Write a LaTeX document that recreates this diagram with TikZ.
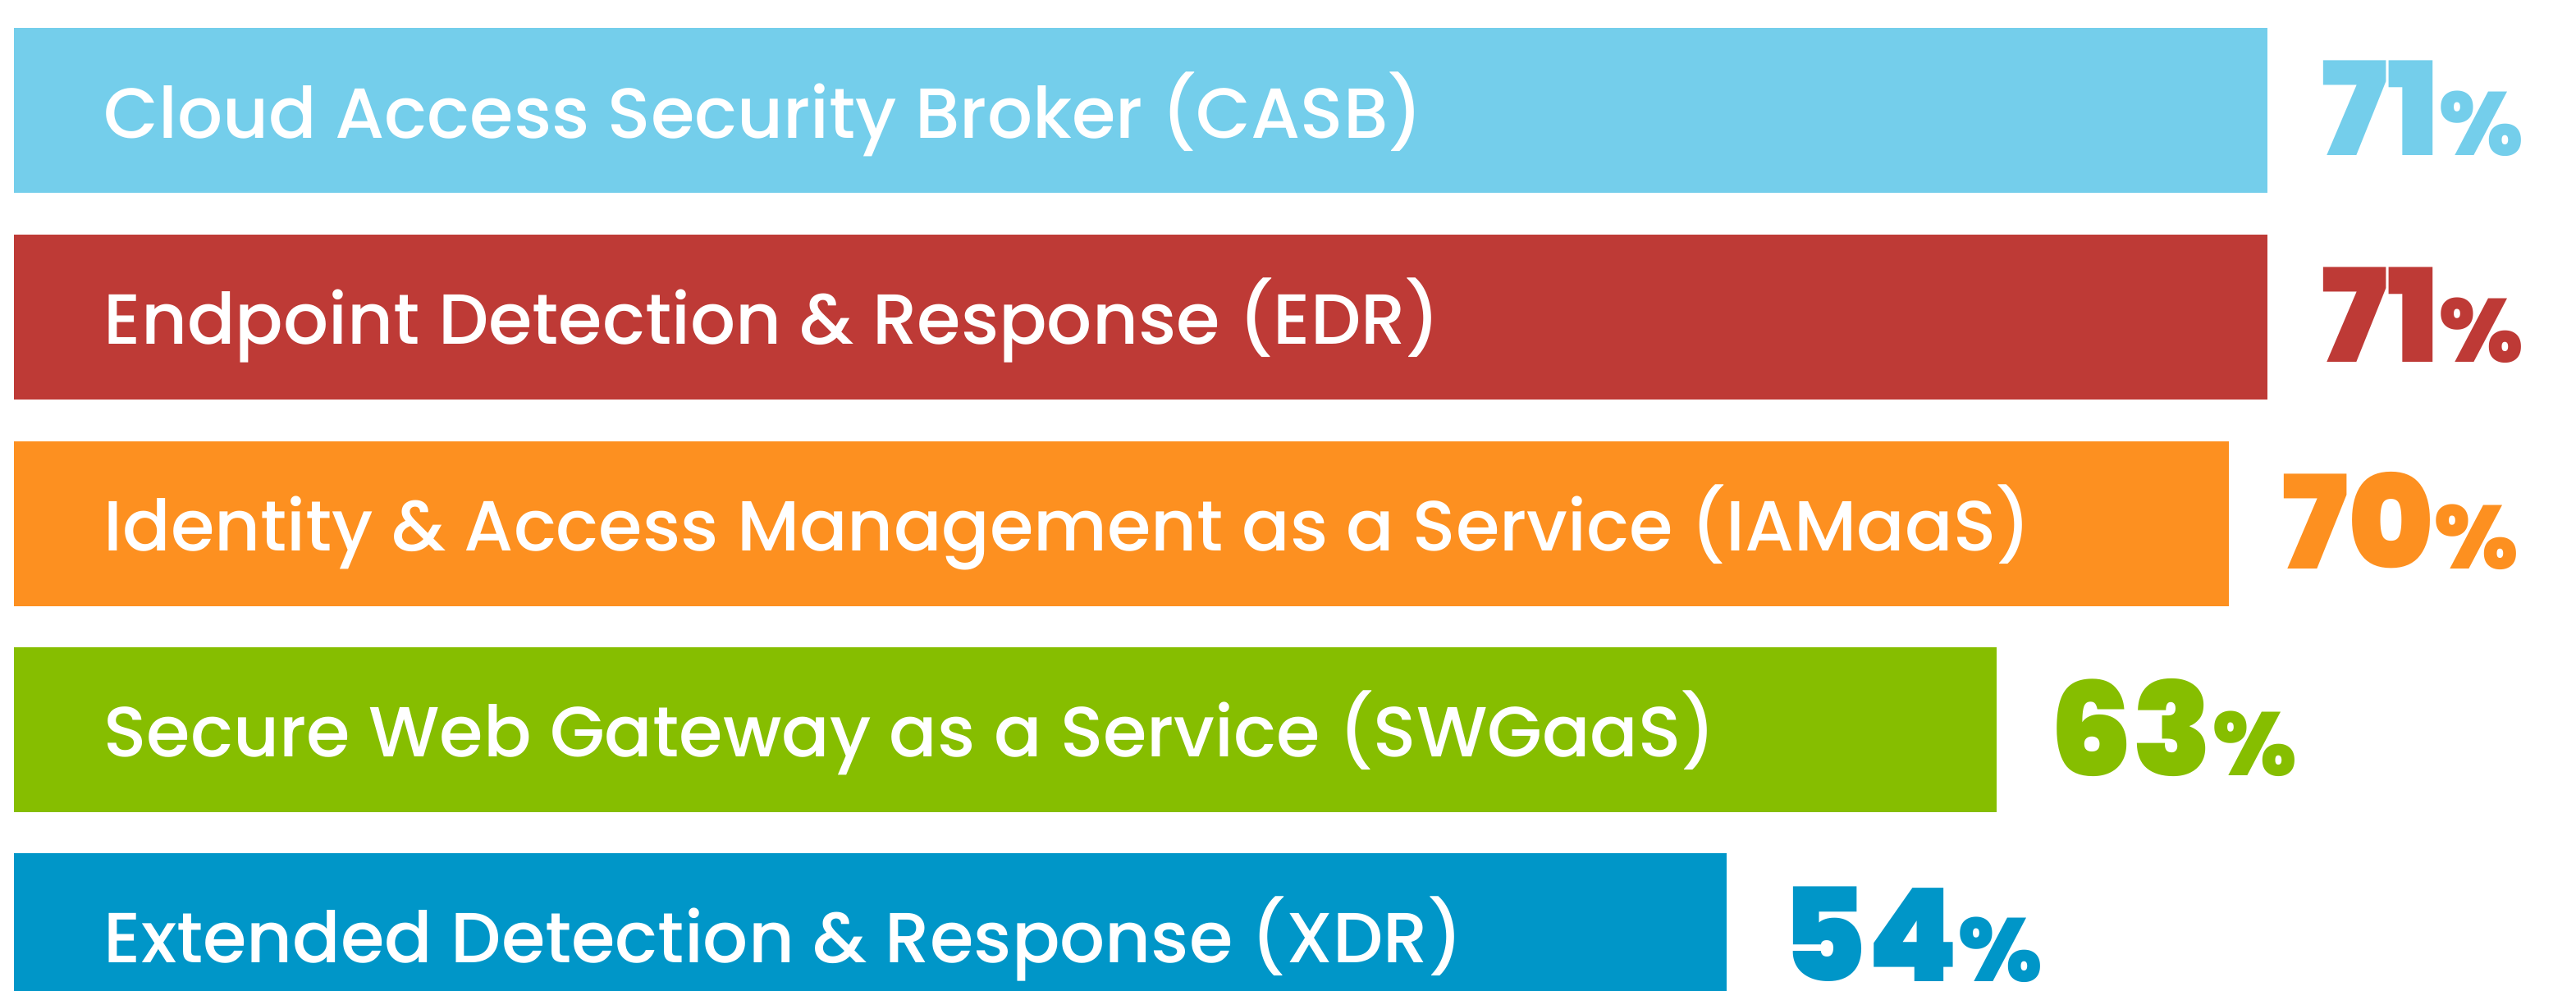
\documentclass[tikz,border=0pt]{standalone}
\usepackage{fontspec}
\setmainfont{Poppins Medium}
\newfontfamily\numfont{Poppins Black}
\definecolor{casbcol}{HTML}{74CEEB}
\definecolor{edrcol}{HTML}{BE3A36}
\definecolor{iamcol}{HTML}{FD9020}
\definecolor{swgcol}{HTML}{86BE00}
\definecolor{xdrcol}{HTML}{0096C8}
\newcommand{\pctsign}{{\fontsize{31}{31}\selectfont\%}}
\begin{document}
\begin{tikzpicture}[lbl/.style={anchor=base west,inner sep=0pt,text=white,font=\fontsize{24.6}{25}\selectfont},
pct/.style={anchor=base west,inner sep=0pt,font=\numfont\fontsize{45}{45}\selectfont}]
\useasboundingbox (0,0) rectangle (31.39,12.07);
\clip (0,0) rectangle (31.39,12.07);
\pgfmathsetmacro{\bh}{2.01}
% bars
\fill[casbcol](0.17,9.72) rectangle ++(27.46,\bh);
\fill[edrcol](0.17,7.20) rectangle ++(27.46,\bh);
\fill[iamcol](0.17,4.68) rectangle ++(26.99,\bh);
\fill[swgcol](0.17,2.17) rectangle ++(24.16,\bh);
\fill[xdrcol](0.17,-0.34) rectangle ++(20.87,\bh);
% labels
\node[lbl](casb) at (1.26,10.38) {Cloud Access Security Broker (CASB)};
\node[lbl](edr) at (1.26,7.87) {Endpoint Detection \& Response (EDR)};
\node[lbl](iam) at (1.26,5.35) {Identity \& Access Management as a Service (IAMaaS)};
\node[lbl](swg) at (1.26,2.84) {Secure Web Gateway as a Service (SWGaaS)};
\node[lbl](xdr) at (1.26,0.34) {Extended Detection \& Response (XDR)};
% values
\node[pct,text=casbcol](casbpct) at (28.28,10.17) {71\pctsign};
\node[pct,text=edrcol](edrpct) at (28.28,7.65) {71\pctsign};
\node[pct,text=iamcol](iampct) at (27.80,5.13) {70\pctsign};
\node[pct,text=swgcol](swgpct) at (24.98,2.61) {63\pctsign};
\node[pct,text=xdrcol](xdrpct) at (21.70,0.11) {54\pctsign};
\end{tikzpicture}
\end{document}
